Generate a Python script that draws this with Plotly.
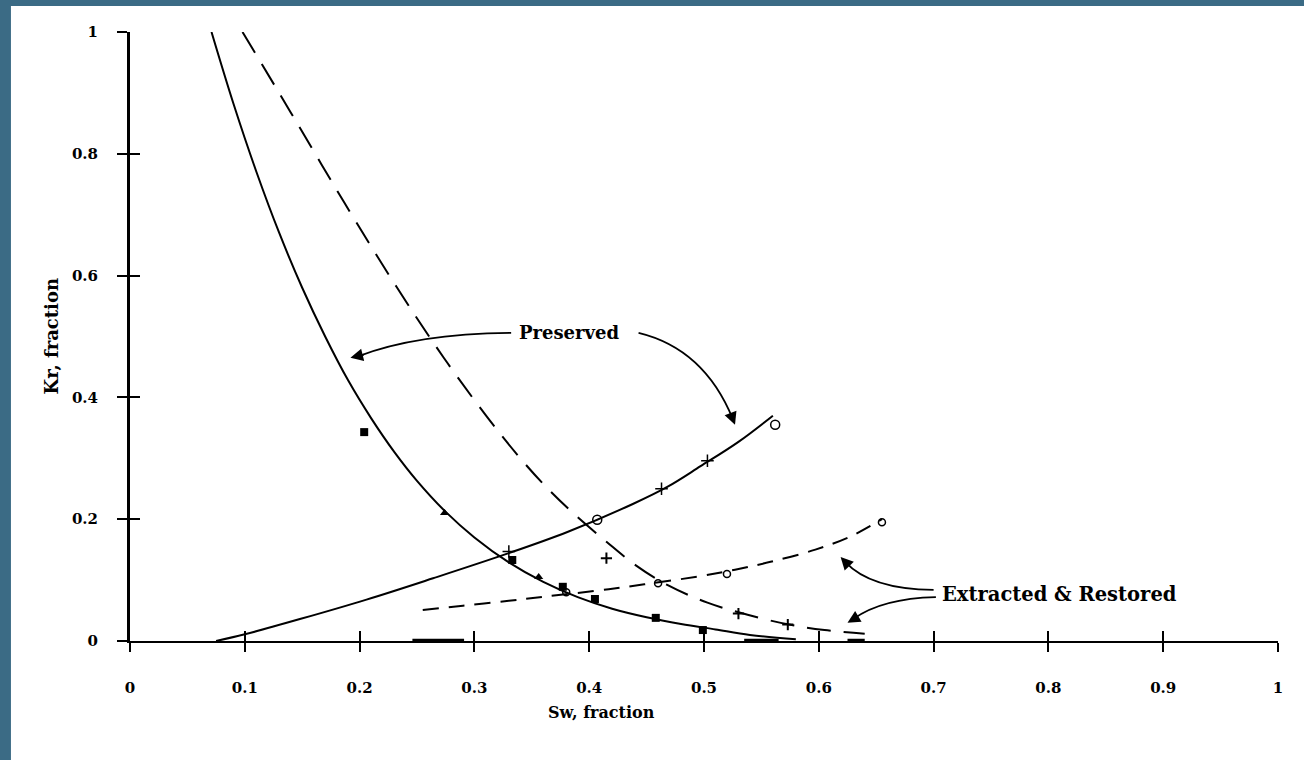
import plotly.graph_objects as go

# ---- data ----
pres_kro_sw = [0.071, 0.090, 0.110, 0.130, 0.150, 0.170, 0.190, 0.210, 0.230, 0.250, 0.275, 0.300,
               0.330, 0.360, 0.390, 0.420, 0.450, 0.480, 0.510, 0.540, 0.580]
pres_kro_kr = [1.000, 0.883, 0.771, 0.670, 0.580, 0.500, 0.428, 0.366, 0.311, 0.263, 0.212, 0.170,
               0.129, 0.097, 0.072, 0.053, 0.039, 0.028, 0.019, 0.010, 0.003]

ext_kro_sw = [0.098, 0.140, 0.186, 0.232, 0.273, 0.311, 0.340, 0.363, 0.386, 0.415, 0.440, 0.468, 0.503,
              0.538, 0.574, 0.605, 0.640]
ext_kro_kr = [1.000, 0.868, 0.722, 0.582, 0.466, 0.368, 0.300, 0.252, 0.210, 0.163, 0.125, 0.092, 0.063,
              0.043, 0.027, 0.018, 0.012]

pres_krw_sw = [0.075, 0.100, 0.148, 0.206, 0.264, 0.328, 0.381, 0.438, 0.468, 0.497, 0.530, 0.560]
pres_krw_kr = [0.000, 0.011, 0.036, 0.068, 0.103, 0.143, 0.179, 0.225, 0.253, 0.287, 0.327, 0.370]

ext_krw_sw = [0.255, 0.290, 0.330, 0.362, 0.417, 0.448, 0.495, 0.527, 0.558, 0.597, 0.628, 0.655]
ext_krw_kr = [0.051, 0.058, 0.066, 0.073, 0.085, 0.093, 0.106, 0.117, 0.130, 0.150, 0.172, 0.200]

# measured points
pres_kro_pts_sw = [0.204, 0.274, 0.333, 0.356, 0.377, 0.405, 0.458, 0.499]
pres_kro_pts_kr = [0.343, 0.210, 0.133, 0.105, 0.089, 0.069, 0.038, 0.018]
pres_kro_pts_sym = ["square", "triangle-up", "square", "triangle-up", "square", "square", "square", "square"]

pres_krw_o_sw = [0.407, 0.562]
pres_krw_o_kr = [0.199, 0.355]
pres_krw_x_sw = [0.330, 0.463, 0.503]
pres_krw_x_kr = [0.147, 0.250, 0.296]

ext_kro_pts_sw = [0.415, 0.530, 0.573]
ext_kro_pts_kr = [0.136, 0.045, 0.027]

ext_krw_pts_sw = [0.380, 0.460, 0.520, 0.655]
ext_krw_pts_kr = [0.080, 0.095, 0.110, 0.195]

zero_seg_sw = [0.246, 0.291, None, 0.535, 0.565, None, 0.625, 0.640]
zero_seg_kr = [0, 0, None, 0, 0, None, 0, 0]

x_ticks = [0, 0.1, 0.2, 0.3, 0.4, 0.5, 0.6, 0.7, 0.8, 0.9, 1]
x_tick_text = ["0", "0.1", "0.2", "0.3", "0.4", "0.5", "0.6", "0.7", "0.8", "0.9", "1"]
y_ticks = [0, 0.2, 0.4, 0.6, 0.8, 1]
y_tick_text = ["0", "0.2", "0.4", "0.6", "0.8", "1"]

FONT = "DejaVu Serif"
BLK = "black"

fig = go.Figure()

fig.add_trace(go.Scatter(x=pres_kro_sw, y=pres_kro_kr, mode="lines", line=dict(color=BLK, width=2, shape="spline"),
                         cliponaxis=False, showlegend=False))
fig.add_trace(go.Scatter(x=ext_kro_sw, y=ext_kro_kr, mode="lines",
                         line=dict(color=BLK, width=2, dash="24px,13px", shape="spline"),
                         cliponaxis=False, showlegend=False))
fig.add_trace(go.Scatter(x=pres_krw_sw, y=pres_krw_kr, mode="lines", line=dict(color=BLK, width=2, shape="spline"),
                         cliponaxis=False, showlegend=False))
fig.add_trace(go.Scatter(x=ext_krw_sw, y=ext_krw_kr, mode="lines",
                         line=dict(color=BLK, width=2, dash="16px,10px", shape="spline"),
                         cliponaxis=False, showlegend=False))

fig.add_trace(go.Scatter(x=pres_kro_pts_sw, y=pres_kro_pts_kr, mode="markers",
                         marker=dict(symbol=pres_kro_pts_sym, size=8, color=BLK),
                         cliponaxis=False, showlegend=False))
fig.add_trace(go.Scatter(x=pres_krw_o_sw, y=pres_krw_o_kr, mode="markers",
                         marker=dict(symbol="circle-open", size=9, color=BLK, line=dict(width=1.5)),
                         cliponaxis=False, showlegend=False))
fig.add_trace(go.Scatter(x=pres_krw_x_sw, y=pres_krw_x_kr, mode="markers",
                         marker=dict(symbol="cross-thin", size=9, color=BLK, line=dict(width=1.5, color=BLK)),
                         cliponaxis=False, showlegend=False))
fig.add_trace(go.Scatter(x=ext_kro_pts_sw, y=ext_kro_pts_kr, mode="markers",
                         marker=dict(symbol="cross-thin", size=8, color=BLK, line=dict(width=2, color=BLK)),
                         cliponaxis=False, showlegend=False))
fig.add_trace(go.Scatter(x=ext_krw_pts_sw, y=ext_krw_pts_kr, mode="markers",
                         marker=dict(symbol="circle-open", size=7, color=BLK, line=dict(width=1.5)),
                         cliponaxis=False, showlegend=False))
fig.add_trace(go.Scatter(x=zero_seg_sw, y=zero_seg_kr, mode="lines",
                         line=dict(color=BLK, width=4.5),
                         cliponaxis=False, showlegend=False))

# invisible trace for overlay axes (crossing tick marks)
fig.add_trace(go.Scatter(x=[0, 1], y=[0, 1], xaxis="x2", yaxis="y2", mode="markers",
                         marker=dict(opacity=0), hoverinfo="skip", showlegend=False))

tick_font = dict(family=FONT, size=15, color=BLK, weight="bold")

fig.update_layout(
    width=1304, height=760,
    margin=dict(l=130, r=26, t=32, b=119),
    paper_bgcolor="#3b6b85",
    plot_bgcolor="white",
    showlegend=False,
    xaxis=dict(range=[0, 1], tickvals=x_ticks, ticktext=x_tick_text, ticks="outside", ticklen=9,
               tickwidth=2, tickcolor=BLK, showline=True, linewidth=2, linecolor=BLK,
               showgrid=False, zeroline=False, tickfont=tick_font, ticklabelstandoff=23),
    yaxis=dict(range=[0, 1], tickvals=y_ticks, ticktext=y_tick_text, ticks="outside", ticklen=10,
               tickwidth=2, tickcolor=BLK, showline=True, linewidth=3, linecolor=BLK,
               showgrid=False, zeroline=False, tickfont=tick_font, ticklabelstandoff=16),
    xaxis2=dict(range=[0, 1], overlaying="x", anchor="y2", side="bottom", tickvals=x_ticks,
                ticks="inside", ticklen=10, tickwidth=2, tickcolor=BLK, showticklabels=False,
                showline=False, showgrid=False, zeroline=False),
    yaxis2=dict(range=[0, 1], overlaying="y", anchor="x2", side="left", tickvals=y_ticks,
                ticks="inside", ticklen=10, tickwidth=2, tickcolor=BLK, showticklabels=False,
                showline=False, showgrid=False, zeroline=False),
)

# white page over blue frame
fig.add_shape(type="rect", xref="paper", yref="paper", x0=-0.1037, x1=1.05, y0=-0.22, y1=1.0427,
              fillcolor="white", line=dict(width=0), layer="below")

# curved annotation leaders
arrow_line = dict(color=BLK, width=1.8)
fig.add_shape(type="path", xref="x", yref="y", path="M 0.332 0.506 Q 0.25 0.505 0.198 0.467",
              line=arrow_line, layer="above")
fig.add_shape(type="path", xref="x", yref="y", path="M 0.443 0.506 Q 0.50 0.48 0.525 0.365",
              line=arrow_line, layer="above")
fig.add_shape(type="path", xref="x", yref="y", path="M 0.700 0.084 Q 0.645 0.085 0.623 0.130",
              line=arrow_line, layer="above")
fig.add_shape(type="path", xref="x", yref="y", path="M 0.702 0.072 Q 0.655 0.070 0.630 0.036",
              line=arrow_line, layer="above")

heads = [(0.192, 0.465, 0.205, 0.471), (0.527, 0.355, 0.523, 0.375),
         (0.619, 0.138, 0.626, 0.124), (0.625, 0.030, 0.634, 0.040)]
for hx, hy, tx, ty in heads:
    fig.add_annotation(x=hx, y=hy, ax=tx, ay=ty, xref="x", yref="y", axref="x", ayref="y",
                       text="", showarrow=True, arrowhead=2, arrowsize=1.4, arrowwidth=1.8, arrowcolor=BLK)

fig.add_annotation(x=0.337, y=0.506, xref="x", yref="y", text="Preserved", showarrow=False,
                   xanchor="left", yanchor="middle", font=dict(family=FONT, size=18, color=BLK, weight="bold"))
fig.add_annotation(x=0.706, y=0.076, xref="x", yref="y", text="Extracted &amp; Restored", showarrow=False,
                   xanchor="left", yanchor="middle", font=dict(family=FONT, size=19.5, color=BLK, weight="bold"))

fig.add_annotation(x=0.411, y=-0.118, xref="x", yref="paper", text="Sw, fraction", showarrow=False,
                   xanchor="center", yanchor="middle", font=dict(family=FONT, size=16, color=BLK, weight="bold"))
fig.add_annotation(x=-0.068, y=0.50, xref="paper", yref="y", text="Kr, fraction", showarrow=False,
                   textangle=-90, xanchor="center", yanchor="middle",
                   font=dict(family=FONT, size=18, color=BLK, weight="bold"))

fig.write_html("out.html", config={"displayModeBar": False},
               post_script="document.body.style.margin='0px';")
